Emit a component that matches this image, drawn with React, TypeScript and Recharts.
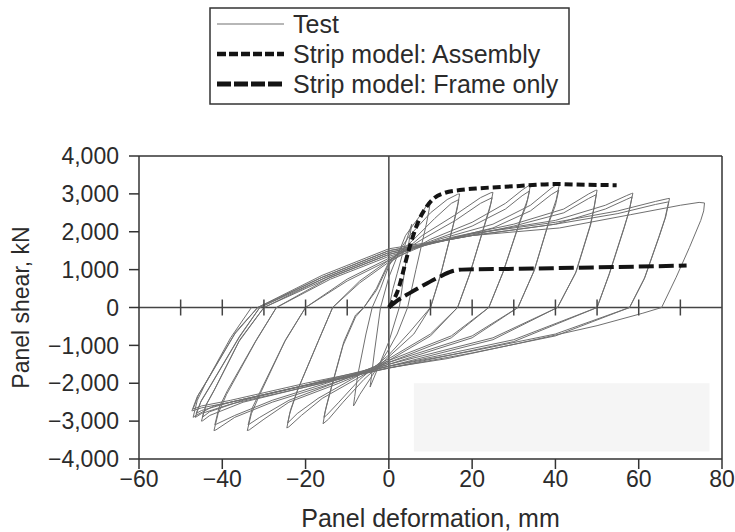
import { LineChart, Line, XAxis, YAxis, ReferenceLine, ReferenceArea, ReferenceDot } from 'recharts'

type Pt = [number, number]

// axis ticks
const xTicks = [-60, -40, -20, 0, 20, 40, 60, 80]
const yTicks = [-4000, -3000, -2000, -1000, 0, 1000, 2000, 3000, 4000]
const zeroLineTicks = [-50, -40, -30, -20, -10, 10, 20, 30, 40, 50, 60, 70]

// test record, one array per cycle (mm, kN); "b" arrays are the repeat cycles
const cycle0: Pt[] = [
  [0, 0], [1, 500], [2, 900], [4, 1700], [5.5, 2200], [4.5, 1500], [2.5, 0], [0, -900],
  [-3, -1700], [-4.5, -2100], [-3.5, -1200], [-2, 0], [0, 800],
]
const cycle1: Pt[] = [
  [4, 1900], [8, 2500], [9.6, 2800], [10, 2830], [9.7, 2600], [9, 2200], [6.5, 1000], [4.5, 0], [2, -700], [0, -1100],
  [-4, -1800], [-7, -2300], [-8.2, -2550], [-8.5, -2600], [-8.2, -2350], [-7.5, -1800], [-5.5, -700], [-4, 0], [-2, 500], [0, 1100],
]
const cycle2: Pt[] = [
  [5, 1900], [10, 2500], [14, 2850], [16.5, 2990], [17, 3000], [16.6, 2750], [15.5, 2200], [12.5, 900], [10, 0], [6, -700],
  [0, -1300], [-6, -1900], [-11, -2500], [-14.5, -2950], [-15.8, -3070], [-15.3, -2750], [-14, -2200], [-11, -1000],
  [-8, -250], [-6, 0], [-3, 500], [0, 1200],
]
const cycle2b: Pt[] = [
  [6, 1800], [11, 2350], [15, 2750], [16.8, 2850], [16.4, 2600], [15.3, 2100], [12.3, 800], [10, 0], [5, -650],
  [0, -1250], [-7, -1900], [-12, -2500], [-15, -2850], [-15.6, -2900], [-15, -2600], [-13.8, -2100], [-10.8, -900],
  [-8, -200], [-6, 0], [-3, 450], [0, 1150],
]
const cycle3: Pt[] = [
  [8, 1900], [16, 2450], [22, 2900], [24.5, 3030], [25, 3040], [24.5, 2750], [23, 2200], [19.5, 900], [16.5, 0], [10, -750],
  [0, -1400], [-8, -1900], [-16, -2400], [-21, -2850], [-24, -3150], [-24.5, -3180], [-23.8, -2800], [-22, -2200], [-17, -900],
  [-13.5, 0], [-7, 700], [0, 1250],
]
const cycle3b: Pt[] = [
  [8, 1800], [16, 2300], [22, 2750], [24.8, 2900], [24.2, 2600], [22.8, 2100], [19.3, 850], [16.5, 0], [10, -700],
  [0, -1350], [-9, -1900], [-17, -2400], [-22, -2800], [-24.3, -3050], [-23.6, -2700], [-21.8, -2150], [-16.8, -850],
  [-13.5, 0], [-7, 650], [0, 1200],
]
const cycle4: Pt[] = [
  [10, 1800], [20, 2250], [28, 2750], [32, 3100], [33.6, 3220], [34, 3230], [33.3, 2850], [31.5, 2300], [27.5, 950], [24, 0],
  [15, -800], [0, -1450], [-12, -2000], [-24, -2500], [-30, -2950], [-33.5, -3230], [-34, -3250], [-33, -2800], [-31, -2300],
  [-25, -900], [-20, 0], [-10, 750], [0, 1300],
]
const cycle4b: Pt[] = [
  [10, 1750], [20, 2150], [28, 2600], [32, 2950], [33.8, 3080], [33, 2700], [31.3, 2200], [27.3, 900], [24, 0],
  [15, -750], [0, -1400], [-12, -1950], [-24, -2450], [-31, -2900], [-33.8, -3100], [-32.8, -2650], [-30.8, -2200],
  [-24.8, -850], [-20, 0], [-10, 700], [0, 1250],
]
const cycle5: Pt[] = [
  [12, 1800], [25, 2200], [34, 2700], [39, 3150], [40.6, 3270], [41, 3280], [40.2, 2850], [38.5, 2300], [35, 1000], [31, 0],
  [20, -800], [0, -1500], [-15, -2050], [-28, -2500], [-37, -2900], [-41.5, -3230], [-42, -3250], [-41, -2800], [-39, -2300],
  [-32, -900], [-27, 0], [-14, 800], [0, 1400],
]
const cycle5b: Pt[] = [
  [12, 1750], [25, 2100], [34, 2550], [39, 2980], [40.8, 3100], [40, 2700], [38.3, 2200], [34.8, 950], [31, 0],
  [20, -750], [0, -1450], [-15, -2000], [-28, -2450], [-37, -2850], [-41.8, -3100], [-40.8, -2650], [-38.8, -2200],
  [-31.8, -850], [-27, 0], [-14, 750], [0, 1350],
]
const cycle6: Pt[] = [
  [15, 1850], [30, 2200], [42, 2600], [48, 3000], [49.6, 3090], [50, 3100], [49.4, 2700], [48.5, 2200], [45, 950], [40.5, 0],
  [25, -850], [0, -1550], [-20, -2100], [-35, -2500], [-43, -2850], [-44.7, -2990], [-45, -3000], [-44, -2600], [-42, -2200],
  [-36, -900], [-30, 0], [-15, 800], [0, 1450],
]
const cycle6b: Pt[] = [
  [15, 1800], [30, 2150], [42, 2500], [48, 2880], [49.8, 2980], [49.2, 2600], [48.3, 2150], [44.8, 900], [40.5, 0],
  [25, -800], [0, -1500], [-20, -2050], [-35, -2450], [-43, -2750], [-44.8, -2900], [-43.8, -2550], [-41.8, -2150],
  [-35.8, -850], [-30, 0], [-15, 750], [0, 1400],
]
const cycle7: Pt[] = [
  [20, 1950], [40, 2300], [52, 2700], [57, 2950], [58.3, 3010], [58.6, 3020], [57.8, 2600], [56.5, 2100], [53, 900], [50, 0],
  [30, -900], [0, -1600], [-20, -2100], [-38, -2550], [-45, -2800], [-46.3, -2890], [-46.5, -2900], [-45.2, -2500], [-43, -2100],
  [-36, -800], [-31, 0], [-16, 800], [0, 1500],
]
const cycle7b: Pt[] = [
  [20, 1900], [40, 2200], [52, 2600], [57, 2850], [58.4, 2920], [57.6, 2500], [56.3, 2050], [52.8, 850], [50, 0],
  [30, -850], [0, -1550], [-20, -2050], [-38, -2500], [-45, -2720], [-46.3, -2800], [-45, -2450], [-42.8, -2050],
  [-35.8, -750], [-31, 0], [-16, 750], [0, 1450],
]
const cycle8: Pt[] = [
  [20, 1950], [40, 2250], [55, 2550], [64, 2800], [67, 2875], [67.4, 2880], [66.5, 2400], [65, 1900], [61.5, 800], [57.8, 0],
  [40, -750], [20, -1200], [0, -1600], [-20, -2050], [-38, -2500], [-45, -2650], [-47.1, -2725], [-47.3, -2730], [-46, -2350],
  [-44, -2000], [-37, -700], [-31.5, 0], [-16, 850], [0, 1550],
]
const cycle8b: Pt[] = [
  [20, 1900], [40, 2200], [55, 2480], [64, 2720], [67.2, 2790], [66.3, 2350], [64.8, 1850], [61.3, 750], [57.8, 0],
  [40, -700], [20, -1150], [0, -1550], [-20, -2000], [-38, -2450], [-45, -2600], [-47, -2680], [-45.7, -2300],
  [-43.8, -1950], [-36.8, -650], [-31.5, 0], [-16, 800], [0, 1500],
]
const cycle9: Pt[] = [
  [20, 1900], [41, 2100], [58, 2450], [70, 2700], [74.5, 2775], [75.8, 2760], [75.6, 2550], [74.9, 2300], [72.2, 1590], [69, 800],
  [65.5, 0], [61, -150], [50, -480], [31, -950], [14, -1350], [0, -1590], [-15, -1950], [-30, -2300],
  [-42, -2600], [-46.5, -2860], [-47, -2900], [-46, -2450], [-44, -2000], [-38, -800], [-33, 0],
]

// strip models
const assemblyModel: Pt[] = [
  [0, 0], [2, 400], [5, 1600], [7, 2250], [9, 2650], [11, 2900], [13.5, 3030], [17, 3100],
  [22, 3150], [30, 3200], [40, 3260], [47, 3240], [54.7, 3230],
]
const frameOnlyModel: Pt[] = [
  [0, 0], [2, 180], [5, 380], [8.2, 580], [12, 800], [15, 950], [17.5, 1000], [30, 1020],
  [45, 1050], [60, 1080], [71.5, 1110],
]

const toRows = (pts: Pt[]) => pts.map(([x, y]) => ({ x, y }))

const testRows = toRows([
  ...cycle0, ...cycle1, ...cycle2, ...cycle2b, ...cycle3, ...cycle3b, ...cycle4, ...cycle4b,
  ...cycle5, ...cycle5b, ...cycle6, ...cycle6b, ...cycle7, ...cycle7b, ...cycle8, ...cycle8b, ...cycle9,
])

const fmt = (v: number) => {
  const s = Math.abs(v).toLocaleString('en-US')
  return v < 0 ? `\u2212${s}` : s
}

const ink = '#2b2b2b'
const testColor = '#707070'
const modelColor = '#141414'

function ChartLegend() {
  const rows = [
    { label: 'Test', dash: undefined, width: 1.2, color: testColor },
    { label: 'Strip model: Assembly', dash: '9 3', width: 4.5, color: modelColor },
    { label: 'Strip model: Frame only', dash: '14 3', width: 5, color: modelColor },
  ]
  return (
    <svg width={362} height={99} style={{ position: 'absolute', left: 209, top: 7 }}>
      <rect x={1} y={1} width={359} height={96} fill="#fff" stroke="#333" strokeWidth={1.5} />
      {rows.map((r, i) => (
        <g key={r.label}>
          <line x1={8} x2={75} y1={17 + i * 30} y2={17 + i * 30} stroke={r.color} strokeWidth={r.width} strokeDasharray={r.dash} />
          <text x={84} y={17 + i * 30} dominantBaseline="central" fontSize={25} fill={ink}>
            {r.label}
          </text>
        </g>
      ))}
    </svg>
  )
}

export default function App() {
  return (
    <div
      style={{
        position: 'absolute',
        left: 0,
        top: 0,
        width: 735,
        height: 532,
        background: '#fff',
        fontFamily: '"Liberation Sans", Arial, sans-serif',
      }}
    >
      <LineChart width={735} height={532} margin={{ top: 156, right: 13, bottom: 0, left: 0 }}>
        <XAxis
          type="number"
          dataKey="x"
          domain={[-60, 80]}
          ticks={xTicks}
          tickFormatter={fmt}
          height={73}
          tickSize={10}
          tickMargin={2}
          stroke="#333"
          strokeWidth={1.5}
          tick={{ fontSize: 23, fill: ink }}
          label={{ value: 'Panel deformation, mm', position: 'insideBottom', offset: 5, fontSize: 25, fill: ink }}
        />
        <YAxis
          type="number"
          dataKey="y"
          domain={[-4000, 4000]}
          ticks={yTicks}
          tickFormatter={fmt}
          width={139}
          tickSize={10}
          tickMargin={10}
          stroke="#333"
          strokeWidth={1.5}
          tick={{ fontSize: 23, fill: ink }}
          label={{
            value: 'Panel shear, kN',
            content: ({ viewBox }: any) => {
              const cx = 21
              const cy = viewBox.y + viewBox.height / 2
              return (
                <text x={cx} y={cy} transform={`rotate(-90 ${cx} ${cy})`} textAnchor="middle" dominantBaseline="central" fontSize={23} fill={ink}>
                  Panel shear, kN
                </text>
              )
            },
          }}
        />
        <ReferenceArea x1={6} x2={77} y1={-3800} y2={-2000} fill="#f5f5f5" fillOpacity={1} stroke="none" />
        <ReferenceLine y={4000} stroke="#333" strokeWidth={1.5} />
        <ReferenceLine x={80} stroke="#333" strokeWidth={1.5} />
        <ReferenceLine x={0} stroke="#444" strokeWidth={1.5} />
        <ReferenceLine y={0} stroke="#444" strokeWidth={1.5} />
        {zeroLineTicks.map((t) => (
          <ReferenceDot
            key={t}
            x={t}
            y={0}
            shape={(p: any) => <line x1={p.cx} x2={p.cx} y1={p.cy - 8} y2={p.cy + 8} stroke="#444" strokeWidth={1.5} />}
          />
        ))}
        <Line data={testRows} dataKey="y" type="linear" stroke={testColor} strokeWidth={1} dot={false} isAnimationActive={false} />
        <Line data={toRows(frameOnlyModel)} dataKey="y" type="monotone" stroke={modelColor} strokeWidth={4} strokeDasharray="15 5" dot={false} isAnimationActive={false} />
        <Line data={toRows(assemblyModel)} dataKey="y" type="monotone" stroke={modelColor} strokeWidth={4} strokeDasharray="8 4" dot={false} isAnimationActive={false} />
      </LineChart>
      <ChartLegend />
    </div>
  )
}
